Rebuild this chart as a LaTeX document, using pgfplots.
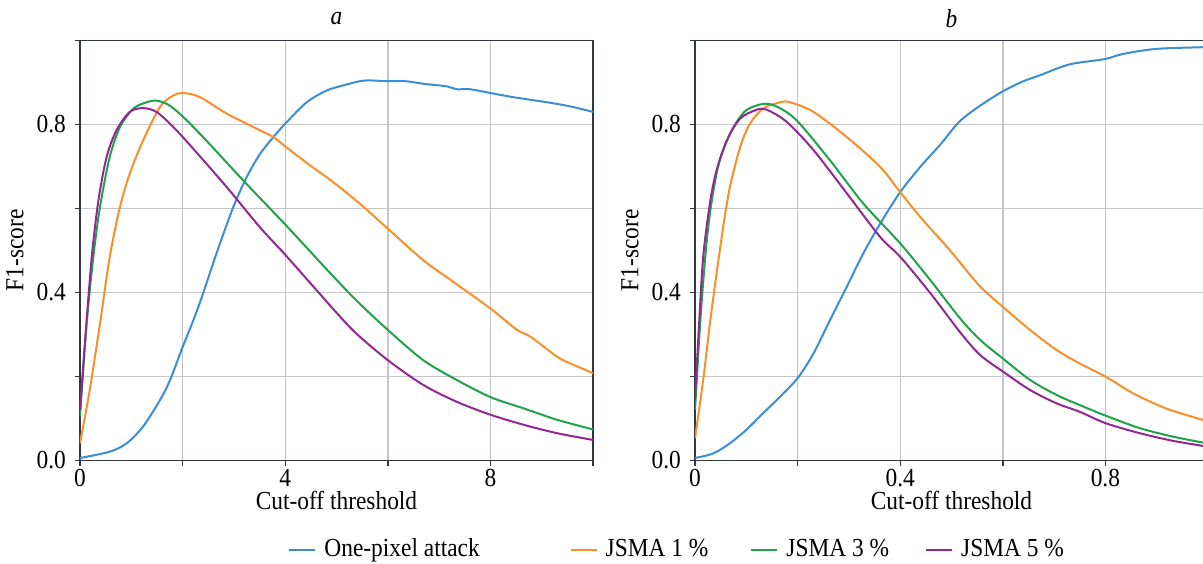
\documentclass[border=0pt]{standalone}
\usepackage{fontspec}
\setmainfont{Liberation Serif}[FakeStretch=0.9]
\usepackage{pgfplots}
\pgfplotsset{compat=1.18}

\definecolor{cblue}{RGB}{58,142,212}
\definecolor{corange}{RGB}{250,142,40}
\definecolor{cgreen}{RGB}{32,162,72}
\definecolor{cpurple}{RGB}{146,40,146}
\definecolor{gridc}{RGB}{198,198,203}
\definecolor{axc}{RGB}{50,55,65}

\pgfplotsset{
  every axis title/.style={at={(axis description cs:0.5,1.052)}, anchor=center},
  f1axis/.style={
    scale only axis,
    width=256.5pt, height=210pt,
    ymin=0, ymax=1,
    ytick={0,0.2,0.4,0.6,0.8,1},
    yticklabels={0.0,,0.4,,0.8,},
    grid=major,
    major grid style={gridc, line width=0.7pt},
    axis line style={axc, line width=0.8pt},
    tick style={axc, line width=0.7pt},
    tick align=outside,
    major tick length=2.5pt,
    tick pos=left,
    /pgf/number format/assume math mode=true,
    xticklabel style={yshift=2.5pt},
    xlabel={Cut-off threshold},
    ylabel={F1-score},
    xlabel style={at={(axis description cs:0.5,-0.096)}, anchor=center, inner sep=0.5pt},
    ylabel style={at={(axis description cs:-0.127,0.5)}, anchor=center},
    every axis plot/.append style={line width=1pt, no markers, smooth, tension=0.5},
  },
}

\begin{document}
\fontsize{13pt}{15pt}\selectfont
\begin{tikzpicture}
\begin{axis}[
  f1axis,
  title={\textit{a}},
  xmin=0, xmax=10,
  xtick={0,2,4,6,8,10},
  xticklabels={0,,4,,8,},
  legend columns=4,
  legend style={draw=none, fill=none, at={(axis description cs:1.166,-0.212)}, anchor=center,
    /tikz/every odd column/.append style={column sep=2pt},
    /tikz/column 2/.style={column sep=43pt},
    /tikz/column 4/.style={column sep=19pt},
    /tikz/column 6/.style={column sep=16pt}},
  legend image code/.code={\draw[#1, sharp plot] (0pt,0pt) -- (13pt,0pt);},
]
\addplot[cblue] coordinates {
(0,0.006)(0.58,0.021)(0.91,0.041)(1.23,0.081)(1.56,0.144)(1.75,0.19)(2.0,0.27)(2.21,0.334)(2.40,0.398)
(2.66,0.493)(2.99,0.604)(3.25,0.675)(3.51,0.73)(3.77,0.77)(4.0,0.802)(4.42,0.853)(4.81,0.881)(5.13,0.893)
(5.45,0.903)(5.64,0.905)(6.0,0.903)(6.36,0.903)(6.69,0.897)(7.14,0.891)(7.34,0.884)(7.6,0.884)(8.0,0.875)
(8.45,0.865)(9.1,0.853)(9.56,0.843)(10,0.83)};
\addplot[corange] coordinates {
(0,0.041)(0.19,0.168)(0.39,0.326)(0.58,0.485)(0.78,0.604)(0.97,0.683)(1.23,0.762)(1.56,0.842)(1.82,0.869)
(2.01,0.875)(2.34,0.865)(2.86,0.826)(3.51,0.786)(3.77,0.77)(4.0,0.748)(4.48,0.703)(4.87,0.669)(5.45,0.612)
(6.0,0.552)(6.69,0.477)(7.27,0.426)(8.0,0.362)(8.52,0.311)(8.78,0.295)(9.3,0.247)(9.56,0.231)(10,0.208)};
\addplot[cgreen] coordinates {
(0,0.105)(0.13,0.326)(0.26,0.485)(0.39,0.604)(0.58,0.723)(0.78,0.794)(1.04,0.838)(1.30,0.853)(1.49,0.857)
(1.75,0.845)(2.08,0.81)(2.53,0.753)(3.18,0.667)(4.0,0.562)(4.81,0.455)(5.38,0.382)(6.0,0.311)(6.69,0.239)
(7.34,0.192)(8.0,0.151)(8.65,0.124)(9.3,0.097)(10,0.074)};
\addplot[cpurple] coordinates {
(0,0.12)(0.1,0.287)(0.23,0.485)(0.36,0.62)(0.52,0.723)(0.71,0.786)(0.97,0.83)(1.23,0.839)(1.49,0.83)
(1.82,0.794)(2.21,0.742)(2.86,0.651)(3.51,0.555)(4.0,0.49)(4.55,0.414)(5.0,0.352)(5.38,0.303)(6.0,0.239)
(6.69,0.18)(7.34,0.14)(8.0,0.109)(8.65,0.085)(9.3,0.065)(10,0.049)};
\legend{One-pixel attack, JSMA 1 \%, JSMA 3 \%, JSMA 5 \%}
\end{axis}

\begin{axis}[
  f1axis,
  at={(307.5pt,0pt)},
  title={\textit{b}},
  xmin=0, xmax=1,
  xtick={0,0.2,0.4,0.6,0.8,1},
  xticklabels={0,,0.4,,0.8,},
]
\addplot[cblue] coordinates {
(0,0.006)(0.036,0.017)(0.068,0.041)(0.1,0.073)(0.133,0.113)(0.166,0.152)(0.2,0.196)(0.231,0.255)(0.263,0.334)
(0.296,0.414)(0.328,0.493)(0.361,0.564)(0.4,0.639)(0.439,0.699)(0.478,0.752)(0.51,0.8)(0.53,0.822)
(0.562,0.85)(0.6,0.879)(0.64,0.903)(0.672,0.917)(0.705,0.933)(0.737,0.945)(0.8,0.956)(0.834,0.968)
(0.899,0.98)(0.989,0.984)(1.0,0.984)};
\addplot[corange] coordinates {
(0,0.053)(0.016,0.192)(0.029,0.326)(0.042,0.445)(0.055,0.556)(0.068,0.651)(0.088,0.746)(0.107,0.802)
(0.133,0.838)(0.166,0.853)(0.185,0.853)(0.231,0.83)(0.296,0.77)(0.361,0.699)(0.4,0.639)(0.439,0.58)
(0.491,0.509)(0.517,0.471)(0.556,0.414)(0.6,0.366)(0.653,0.311)(0.705,0.263)(0.75,0.231)(0.8,0.2)
(0.854,0.16)(0.918,0.124)(0.989,0.097)(1.0,0.094)};
\addplot[cgreen] coordinates {
(0,0.12)(0.01,0.326)(0.02,0.485)(0.029,0.588)(0.042,0.683)(0.055,0.739)(0.075,0.794)(0.1,0.834)(0.133,0.849)
(0.159,0.843)(0.198,0.81)(0.263,0.715)(0.328,0.612)(0.4,0.517)(0.459,0.429)(0.517,0.338)(0.556,0.287)
(0.6,0.243)(0.653,0.192)(0.705,0.156)(0.75,0.132)(0.8,0.107)(0.867,0.077)(0.931,0.057)(0.989,0.043)(1.0,0.041)};
\addplot[cpurple] coordinates {
(0,0.144)(0.008,0.326)(0.016,0.485)(0.029,0.612)(0.042,0.691)(0.062,0.762)(0.088,0.814)(0.12,0.835)
(0.14,0.835)(0.179,0.806)(0.231,0.739)(0.296,0.636)(0.361,0.532)(0.4,0.485)(0.459,0.398)(0.517,0.305)
(0.556,0.251)(0.6,0.212)(0.653,0.168)(0.705,0.136)(0.75,0.116)(0.8,0.089)(0.867,0.065)(0.931,0.047)
(0.989,0.035)(1.0,0.033)};
\end{axis}

\pgfresetboundingbox
\path[use as bounding box] (-40pt,-51.25pt) rectangle (561.5pt,230.25pt);
\end{tikzpicture}
\end{document}
